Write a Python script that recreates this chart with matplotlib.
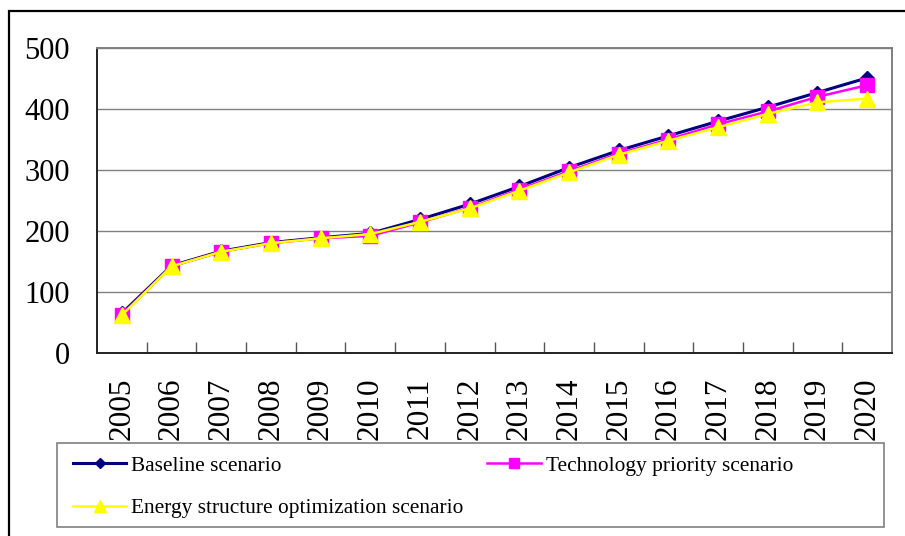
import matplotlib
matplotlib.use("Agg")
import matplotlib.pyplot as plt
from matplotlib.patches import Rectangle

years = ["2005", "2006", "2007", "2008", "2009", "2010", "2011", "2012",
         "2013", "2014", "2015", "2016", "2017", "2018", "2019", "2020"]
baseline = [65, 143, 167, 181, 189, 196, 219, 244, 273, 304, 332, 356, 380, 403, 427, 451]
technology = [63, 142, 166, 180, 188, 192, 214, 238, 268, 298, 327, 350, 375, 396, 420, 439]
energy = [62, 142, 166, 180, 188, 195, 215, 237, 266, 296, 325, 348, 370, 392, 411, 417]
yticks = [0, 100, 200, 300, 400, 500]

plt.rcParams['font.family'] = ['Liberation Serif', 'DejaVu Serif']

W, H = 905, 536
fig = plt.figure(figsize=(W / 100, H / 100), dpi=100)

# outer chart border
fig.patches.append(Rectangle((9 / W, -0.05), 1.2, (H - 11) / H + 0.05, transform=fig.transFigure,
                             fill=False, edgecolor='black', linewidth=1.6, zorder=0))

ax = fig.add_axes([97 / W, (H - 353) / H, (892 - 97) / W, (353 - 48) / H])
x = list(range(len(years)))

l1, = ax.plot(x, baseline, color='#000080', linewidth=2.2, marker='D', markersize=7,
              markerfacecolor='#000080', markeredgecolor='#000080', zorder=3, label='Baseline scenario')
l2, = ax.plot(x, technology, color='#FF00FF', linewidth=1.8, marker='s', markersize=9.5,
              markerfacecolor='#FF00FF', markeredgecolor='#FF00FF', zorder=4, label='Technology priority scenario')
l3, = ax.plot(x, energy, color='#FFFF00', linewidth=1.8, marker='^', markersize=11,
              markerfacecolor='#FFFF00', markeredgecolor='#FFFF00', zorder=5,
              label='Energy structure optimization scenario')

ax.set_xlim(-0.5, len(years) - 0.5)
ax.set_ylim(0, 500)
ax.set_yticks(yticks)
ax.set_yticklabels([str(v) for v in yticks], fontsize=22)
ax.tick_params(axis='y', length=0, pad=19.5)
ax.yaxis.grid(True, color='#808080', linewidth=1.0)
ax.set_axisbelow(True)

ax.set_xticks(x)
ax.set_xticklabels(years, rotation=90, fontsize=22.5)
ax.tick_params(axis='x', which='major', length=0, pad=17.5)
ax.set_xticks([i + 0.5 for i in x[:-1]], minor=True)
ax.tick_params(axis='x', which='minor', direction='in', length=8, color='#555555', width=1)

for s in ['left', 'bottom']:
    ax.spines[s].set_color('#222222')
    ax.spines[s].set_linewidth(1.4)
for s in ['top', 'right']:
    ax.spines[s].set_color('#808080')
    ax.spines[s].set_linewidth(1.4)

# legend frame
fig.patches.append(Rectangle((57 / W, (H - 527) / H), (884 - 57) / W, 84 / H, transform=fig.transFigure,
                             fill=False, edgecolor='#808080', linewidth=1.2, zorder=1))

leg = fig.legend(handles=[l1, l3, l2], ncol=2,
                 bbox_to_anchor=(73 / W, (H - 456) / H),
                 loc='upper left', fontsize=15.4, frameon=False,
                 handlelength=2.5, handletextpad=0.23, columnspacing=1.1,
                 labelspacing=1.05, borderaxespad=0, borderpad=0, markerscale=0.75)

fig.savefig('out.png', dpi=100)
